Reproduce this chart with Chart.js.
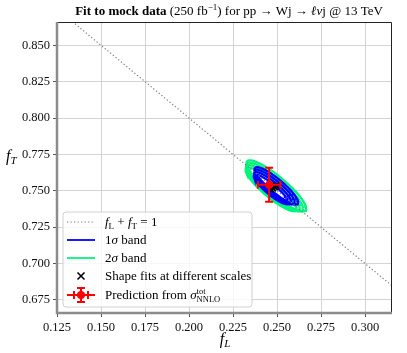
<!DOCTYPE html>
<html>
<head>
<meta charset="utf-8">
<script src="https://cdn.jsdelivr.net/npm/chart.js@4.4.0/dist/chart.umd.min.js"></script>
<style>
  html, body { margin: 0; padding: 0; background: #fff; }
  canvas { display: block; }
</style>
</head>
<body>
<canvas id="fit-chart" width="407" height="353"></canvas>
<script>
/* ============================================
   Fit to mock data - fL / fT plane
   ============================================ */

// Axes
const xTickValues = [0.125, 0.150, 0.175, 0.200, 0.225, 0.250, 0.275, 0.300];
const yTickValues = [0.675, 0.700, 0.725, 0.750, 0.775, 0.800, 0.825, 0.850];
const xRange = [0.125, 0.3153];
const yRange = [0.666, 0.866];

// fL + fT = 1 reference line (end points, clipped by the plot)
const sumLineL = [0.10, 0.35];
const sumLineT = [0.90, 0.65];

// Shape fits at different scales (central values)
const scaleFitL = [0.2466, 0.2476, 0.2486, 0.2496];
const scaleFitT = [0.7510, 0.7518, 0.7526, 0.7534];

// Fit uncertainty (per unit sigma) and correlation
const sigmaL = 0.0086;
const sigmaT = 0.0089;
const rhoLT = -0.89;

// Contour sizes (in sigma) drawn for each scale
const oneSigmaK = [1.14, 1.24, 1.34, 1.44];
const twoSigmaK = [1.68, 1.78, 1.88, 1.97];

// Prediction from sigma_tot NNLO
const predL = [0.2455];
const predT = [0.7541];
const predErrL = [0.0064];
const predErrT = [0.0117];

// ============================================
// Styles
// ============================================
const SERIF = '"Liberation Serif", "DejaVu Serif", serif';
const BLUE = '#0000ff';
const GREEN = '#00f57a';
const RED = '#ff0000';
const LINE_GRAY = '#808080';

// contour of a correlated gaussian at k sigma
const contour = (cL, cT, k) => {
  const pts = [];
  const s = Math.sqrt(1 - rhoLT * rhoLT);
  for (let i = 0; i <= 90; i++) {
    const t = (i / 90) * 2 * Math.PI;
    pts.push({
      x: cL + k * sigmaL * Math.cos(t),
      y: cT + k * sigmaT * (rhoLT * Math.cos(t) + s * Math.sin(t))
    });
  }
  return pts;
};

// draw a row of text runs with different fonts / offsets
const drawRuns = (ctx, runs, x, y, align) => {
  let total = 0;
  runs.forEach(r => {
    ctx.font = r.font;
    r.w = r.noAdvance ? 0 : ctx.measureText(r.t).width;
    total += r.w;
  });
  let cx = align === 'center' ? x - total / 2 : x;
  runs.forEach(r => {
    ctx.font = r.font;
    ctx.fillText(r.t, cx, y + (r.dy || 0));
    cx += r.w;
  });
};

// ============================================
// Datasets
// ============================================
const datasets = [];

datasets.push({
  label: 'Prediction',
  data: predL.map((v, i) => ({ x: v, y: predT[i] })),
  pointStyle: 'circle',
  pointRadius: 4,
  backgroundColor: RED,
  borderColor: RED,
  borderWidth: 0
});

datasets.push({
  label: 'Shape fits',
  data: scaleFitL.map((v, i) => ({ x: v, y: scaleFitT[i] })),
  pointStyle: 'crossRot',
  pointRadius: 4.5,
  borderColor: '#000',
  borderWidth: 1.6
});

datasets.push({
  label: 'fL + fT = 1',
  data: sumLineL.map((v, i) => ({ x: v, y: sumLineT[i] })),
  showLine: true,
  pointRadius: 0,
  borderColor: LINE_GRAY,
  borderWidth: 1.2,
  borderDash: [1.3, 2.2]
});

scaleFitL.forEach((cL, i) => {
  datasets.push({
    label: '1 sigma',
    data: contour(cL, scaleFitT[i], oneSigmaK[i]),
    showLine: true,
    pointRadius: 0,
    borderColor: BLUE,
    borderWidth: 2.3
  });
});

scaleFitL.forEach((cL, i) => {
  datasets.push({
    label: '2 sigma',
    data: contour(cL, scaleFitT[i], twoSigmaK[i]),
    showLine: true,
    pointRadius: 0,
    borderColor: GREEN,
    borderWidth: 2.3
  });
});

// ============================================
// Decorations: error bars, frame, title, labels, legend
// ============================================
const decorPlugin = {
  id: 'decor',
  afterDatasetsDraw(chart) {
    const { ctx } = chart;
    const xs = chart.scales.x;
    const ys = chart.scales.y;
    ctx.save();
    ctx.strokeStyle = RED;
    ctx.lineWidth = 2;
    predL.forEach((v, i) => {
      const px = xs.getPixelForValue(v);
      const py = ys.getPixelForValue(predT[i]);
      const x0 = xs.getPixelForValue(v - predErrL[i]);
      const x1 = xs.getPixelForValue(v + predErrL[i]);
      const y0 = ys.getPixelForValue(predT[i] - predErrT[i]);
      const y1 = ys.getPixelForValue(predT[i] + predErrT[i]);
      ctx.beginPath();
      ctx.moveTo(x0, py); ctx.lineTo(x1, py);
      ctx.moveTo(px, y0); ctx.lineTo(px, y1);
      ctx.moveTo(x0, py - 4); ctx.lineTo(x0, py + 4);
      ctx.moveTo(x1, py - 4); ctx.lineTo(x1, py + 4);
      ctx.moveTo(px - 4, y0); ctx.lineTo(px + 4, y0);
      ctx.moveTo(px - 4, y1); ctx.lineTo(px + 4, y1);
      ctx.stroke();
    });
    ctx.restore();
  },
  afterDraw(chart) {
    const { ctx, chartArea: a } = chart;
    ctx.save();

    // frame
    ctx.lineWidth = 1;
    ctx.strokeStyle = '#222';
    ctx.beginPath();
    ctx.moveTo(a.left, a.top + 0.5); ctx.lineTo(a.right - 0.5, a.top + 0.5);
    ctx.lineTo(a.right - 0.5, a.bottom);
    ctx.stroke();
    ctx.lineWidth = 2.5;
    ctx.strokeStyle = '#8c8c8c';
    ctx.beginPath();
    ctx.moveTo(a.left, a.top); ctx.lineTo(a.left, a.bottom); ctx.lineTo(a.right, a.bottom);
    ctx.stroke();

    ctx.fillStyle = '#000';
    ctx.textBaseline = 'alphabetic';

    // title
    drawRuns(ctx, [
      { t: 'Fit to mock data', font: `bold 13px ${SERIF}` },
      { t: ' (250 fb', font: `13px ${SERIF}` },
      { t: '\u22121', font: `9px ${SERIF}`, dy: -5 },
      { t: ') for pp \u2192 Wj \u2192 ', font: `13px ${SERIF}` },
      { t: '\u2113\u03bd', font: `italic 13px ${SERIF}` },
      { t: 'j @ 13 TeV', font: `13px ${SERIF}` }
    ], 229, 15, 'center');

    // axis titles
    drawRuns(ctx, [
      { t: 'f', font: `italic 16px ${SERIF}` },
      { t: 'L', font: `italic 11px ${SERIF}`, dy: 3 }
    ], 225, 344, 'center');
    drawRuns(ctx, [
      { t: 'f', font: `italic 16px ${SERIF}` },
      { t: 'T', font: `italic 11px ${SERIF}`, dy: 3 }
    ], 6, 161, 'left');

    // legend box
    const bx = 63, by = 212, bw = 189, bh = 95, r = 3;
    ctx.beginPath();
    ctx.moveTo(bx + r, by);
    ctx.arcTo(bx + bw, by, bx + bw, by + bh, r);
    ctx.arcTo(bx + bw, by + bh, bx, by + bh, r);
    ctx.arcTo(bx, by + bh, bx, by, r);
    ctx.arcTo(bx, by, bx + bw, by, r);
    ctx.closePath();
    ctx.fillStyle = 'rgba(255,255,255,0.8)';
    ctx.fill();
    ctx.strokeStyle = '#d0d0d0';
    ctx.lineWidth = 1;
    ctx.stroke();

    const hx0 = 67, hx1 = 95, hxm = 81, tx = 105;
    const rows = [222, 240, 258, 276, 295];

    // handle: dotted line
    ctx.strokeStyle = LINE_GRAY;
    ctx.lineWidth = 1.2;
    ctx.setLineDash([1.3, 2.2]);
    ctx.beginPath(); ctx.moveTo(hx0, rows[0]); ctx.lineTo(hx1, rows[0]); ctx.stroke();
    ctx.setLineDash([]);
    // handle: bands
    ctx.lineWidth = 1.8;
    ctx.strokeStyle = BLUE;
    ctx.beginPath(); ctx.moveTo(hx0, rows[1]); ctx.lineTo(hx1, rows[1]); ctx.stroke();
    ctx.strokeStyle = GREEN;
    ctx.beginPath(); ctx.moveTo(hx0, rows[2]); ctx.lineTo(hx1, rows[2]); ctx.stroke();
    // handle: cross
    ctx.strokeStyle = '#000';
    ctx.lineWidth = 1.6;
    ctx.beginPath();
    ctx.moveTo(hxm - 3.5, rows[3] - 3.5); ctx.lineTo(hxm + 3.5, rows[3] + 3.5);
    ctx.moveTo(hxm - 3.5, rows[3] + 3.5); ctx.lineTo(hxm + 3.5, rows[3] - 3.5);
    ctx.stroke();
    // handle: error bar marker
    ctx.strokeStyle = RED;
    ctx.lineWidth = 2;
    const ry = rows[4];
    ctx.beginPath();
    ctx.moveTo(hx0, ry); ctx.lineTo(hx1, ry);
    ctx.moveTo(hxm, ry - 7); ctx.lineTo(hxm, ry + 7);
    ctx.moveTo(hxm - 4, ry - 7); ctx.lineTo(hxm + 4, ry - 7);
    ctx.moveTo(hxm - 4, ry + 7); ctx.lineTo(hxm + 4, ry + 7);
    ctx.moveTo(hxm - 7, ry - 4); ctx.lineTo(hxm - 7, ry + 4);
    ctx.moveTo(hxm + 7, ry - 4); ctx.lineTo(hxm + 7, ry + 4);
    ctx.stroke();
    ctx.fillStyle = RED;
    ctx.beginPath(); ctx.arc(hxm, ry, 4, 0, 2 * Math.PI); ctx.fill();

    // legend texts
    ctx.fillStyle = '#000';
    const base = 4;
    drawRuns(ctx, [
      { t: 'f', font: `italic 13px ${SERIF}` },
      { t: 'L', font: `9px ${SERIF}`, dy: 2.5 },
      { t: ' + ', font: `13px ${SERIF}` },
      { t: 'f', font: `italic 13px ${SERIF}` },
      { t: 'T', font: `9px ${SERIF}`, dy: 2.5 },
      { t: ' = 1', font: `13px ${SERIF}` }
    ], tx, rows[0] + base, 'left');
    drawRuns(ctx, [
      { t: '1', font: `13px ${SERIF}` },
      { t: '\u03c3', font: `italic 13px ${SERIF}` },
      { t: ' band', font: `13px ${SERIF}` }
    ], tx, rows[1] + base, 'left');
    drawRuns(ctx, [
      { t: '2', font: `13px ${SERIF}` },
      { t: '\u03c3', font: `italic 13px ${SERIF}` },
      { t: ' band', font: `13px ${SERIF}` }
    ], tx, rows[2] + base, 'left');
    drawRuns(ctx, [
      { t: 'Shape fits at different scales', font: `13px ${SERIF}` }
    ], tx, rows[3] + base, 'left');
    drawRuns(ctx, [
      { t: 'Prediction from ', font: `13px ${SERIF}` },
      { t: '\u03c3', font: `italic 13px ${SERIF}` },
      { t: 'tot', font: `8.5px ${SERIF}`, dy: -5, noAdvance: true },
      { t: 'NNLO', font: `8.5px ${SERIF}`, dy: 3 }
    ], tx, rows[4] + base, 'left');

    ctx.restore();
  }
};

// ============================================
// Chart
// ============================================
const tickFont = { family: SERIF, size: 12.5 };

new Chart(document.getElementById('fit-chart').getContext('2d'), {
  type: 'scatter',
  data: { datasets },
  options: {
    responsive: false,
    animation: false,
    layout: { padding: { top: 22, right: 15, left: 0, bottom: 0 } },
    plugins: {
      legend: { display: false },
      title: { display: false },
      tooltip: { enabled: false }
    },
    scales: {
      x: {
        type: 'linear',
        min: xRange[0],
        max: xRange[1],
        afterBuildTicks: (scale) => { scale.ticks = xTickValues.map(v => ({ value: v })); },
        afterFit: (scale) => { scale.height = 40; },
        grid: { color: '#d4d4d4', lineWidth: 1, tickColor: '#555', tickLength: 4 },
        border: { display: false },
        ticks: {
          color: '#111',
          font: tickFont,
          padding: 3,
          maxRotation: 0,
          callback: (v) => v.toFixed(3)
        }
      },
      y: {
        type: 'linear',
        min: yRange[0],
        max: yRange[1],
        afterBuildTicks: (scale) => { scale.ticks = yTickValues.map(v => ({ value: v })); },
        afterFit: (scale) => { scale.width = 57; },
        grid: { color: '#d4d4d4', lineWidth: 1, tickColor: '#555', tickLength: 4 },
        border: { display: false },
        ticks: {
          color: '#111',
          font: tickFont,
          padding: 3,
          callback: (v) => v.toFixed(3)
        }
      }
    }
  },
  plugins: [decorPlugin]
});
</script>
</body>
</html>
